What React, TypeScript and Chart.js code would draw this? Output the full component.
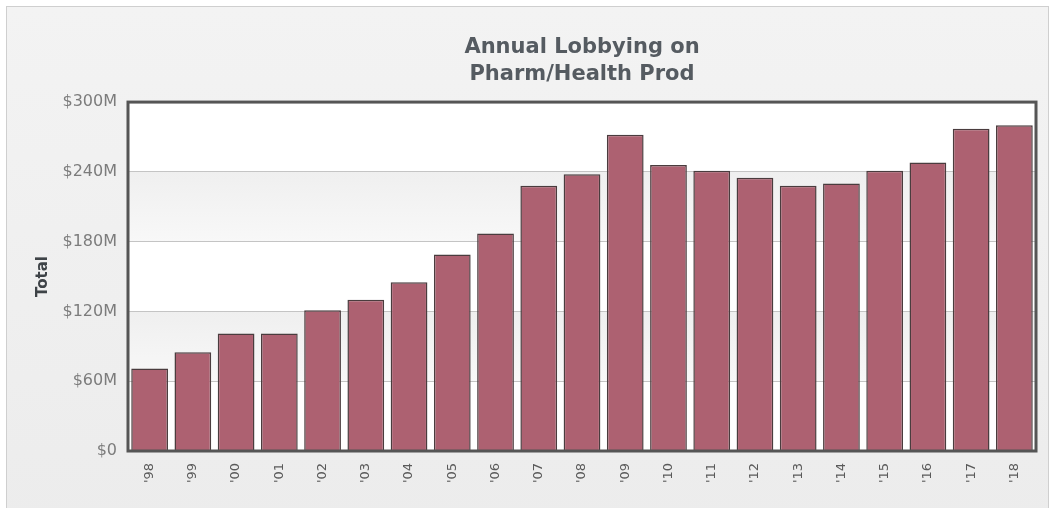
import React, { useEffect, useRef } from "react";
import { Chart, registerables } from "chart.js";

Chart.register(...registerables);

// Annual lobbying totals, millions of dollars
const years = ["'98", "'99", "'00", "'01", "'02", "'03", "'04", "'05", "'06", "'07", "'08", "'09", "'10", "'11", "'12", "'13", "'14", "'15", "'16", "'17", "'18"];
const totals = [71, 85, 101, 101, 121, 130, 145, 169, 187, 228, 238, 272, 246, 241, 235, 228, 230, 241, 248, 277, 280];
const yTicks = [0, 60, 120, 180, 240, 300];
const titleLines = ["Annual Lobbying on", "Pharm/Health Prod"];

const FONT = "'DejaVu Sans', Verdana, sans-serif";

// Alternating shaded bands behind the bars, plus the dark frame around the plot
const plotDecor = {
  id: "plotDecor",
  beforeDraw(chart: any) {
    const { ctx, chartArea: a, scales } = chart;
    const y = scales.y;
    ctx.save();
    ctx.fillStyle = "#ffffff";
    ctx.fillRect(a.left, a.top, a.right - a.left, a.bottom - a.top);
    for (let i = 0; i < yTicks.length - 1; i++) {
      if (i % 2 === 1) {
        const yb = y.getPixelForValue(yTicks[i]);
        const yt = y.getPixelForValue(yTicks[i + 1]);
        const g = ctx.createLinearGradient(0, yt, 0, yb);
        g.addColorStop(0, "#efefef");
        g.addColorStop(1, "#f8f8f8");
        ctx.fillStyle = g;
        ctx.fillRect(a.left, yt, a.right - a.left, yb - yt);
      }
    }
    ctx.restore();
  },
  afterDatasetsDraw(chart: any) {
    const { ctx, chartArea: a } = chart;
    ctx.save();
    ctx.strokeStyle = "#555555";
    ctx.lineWidth = 3;
    ctx.strokeRect(a.left, a.top, a.right - a.left, a.bottom - a.top);
    ctx.restore();
  },
};

function LobbyingChart() {
  const canvasRef = useRef<HTMLCanvasElement | null>(null);

  useEffect(() => {
    const canvas = canvasRef.current;
    if (!canvas) return;
    const chart = new Chart(canvas, {
      type: "bar",
      data: {
        labels: years,
        datasets: [
          {
            label: "Total",
            data: totals,
            backgroundColor: "#ad6171",
            borderColor: "#4a3c3e",
            borderWidth: 1.5,
            categoryPercentage: 1,
            barPercentage: 0.85,
          },
        ],
      },
      options: {
        animation: false,
        responsive: false,
        maintainAspectRatio: false,
        layout: { padding: { left: 0, right: 17, top: 0, bottom: 0 } },
        plugins: {
          legend: { display: false },
          tooltip: { enabled: false },
          title: {
            display: true,
            text: titleLines,
            color: "#555b61",
            font: { family: FONT, size: 21, weight: "bold", lineHeight: 1.24 },
            padding: { top: 35, bottom: 15 },
            fullSize: false,
          },
        },
        scales: {
          x: {
            grid: { display: false },
            border: { display: false },
            ticks: {
              color: "#5a5a5a",
              font: { family: FONT, size: 13 },
              minRotation: 90,
              maxRotation: 90,
              padding: 4,
            },
            afterFit(scale: any) {
              scale.height = 57;
            },
          },
          y: {
            min: 0,
            max: 300,
            afterBuildTicks(scale: any) {
              scale.ticks = yTicks.map((v) => ({ value: v }));
            },
            grid: { color: "#c4c4c4", lineWidth: 1, drawTicks: false },
            border: { display: false },
            ticks: {
              color: "#7c7c7c",
              font: { family: FONT, size: 16 },
              padding: 11,
              callback: (v: any) => (Number(v) === 0 ? "$0" : "$" + v + "M"),
            },
            title: {
              display: true,
              text: "Total",
              color: "#3e4347",
              font: { family: FONT, size: 15, weight: "bold" },
              padding: { top: 34, bottom: 0 },
            },
            afterFit(scale: any) {
              scale.width = 128;
            },
          },
        },
      },
      plugins: [plotDecor],
    });
    return () => chart.destroy();
  }, []);

  return <canvas ref={canvasRef} width={1053} height={508} style={{ position: "absolute", left: 0, top: 0 }} />;
}

export default function App() {
  useEffect(() => {
    document.body.style.margin = "0";
  }, []);
  return (
    <div style={{ position: "relative", width: 1053, height: 508, background: "#ffffff", overflow: "hidden" }}>
      <div
        style={{
          position: "absolute",
          left: 6,
          top: 6,
          width: 1041,
          height: 520,
          border: "1px solid #cfcfcf",
          background: "linear-gradient(180deg, #f3f3f3 0%, #ececec 100%)",
        }}
      />
      <LobbyingChart />
    </div>
  );
}
